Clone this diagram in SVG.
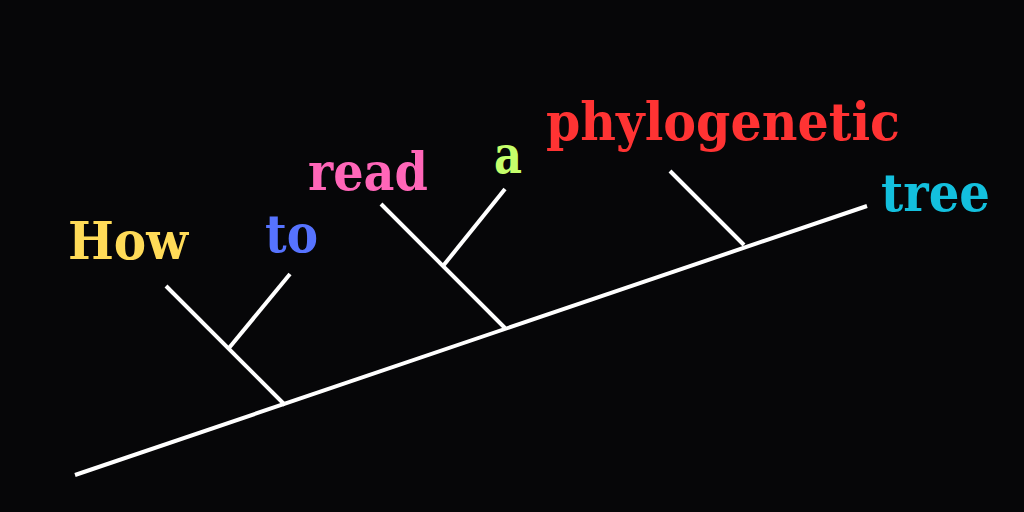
<svg xmlns="http://www.w3.org/2000/svg" width="1024" height="512" viewBox="0 0 1024 512">
<style>
.b{stroke:#fff;stroke-width:4;fill:none;stroke-linecap:butt}
.t{font-family:"DejaVu Serif","Liberation Serif",serif;font-weight:bold;font-size:52px}
</style>
<rect width="1024" height="512" fill="#060608"/>
<g id="connectors">
<line class="b" x1="75" y1="475" x2="867" y2="206"/>
<line class="b" x1="166" y1="286" x2="285" y2="405"/>
<line class="b" x1="229" y1="348" x2="290" y2="274"/>
<line class="b" x1="381" y1="204" x2="505" y2="328"/>
<line class="b" x1="443" y1="266" x2="505" y2="189"/>
<line class="b" x1="670" y1="171" x2="744" y2="245"/>
</g>
<g id="how"><text class="t" x="68" y="259" fill="#FFDB58" textLength="120" lengthAdjust="spacingAndGlyphs">How</text></g>
<g id="to"><text class="t" x="265" y="252" fill="#5673FF" textLength="53" lengthAdjust="spacingAndGlyphs">to</text></g>
<g id="read"><text class="t" x="308" y="190" fill="#FF66B8" textLength="120" lengthAdjust="spacingAndGlyphs">read</text></g>
<g id="a"><text class="t" x="494" y="173" fill="#C5FF6B" textLength="28" lengthAdjust="spacingAndGlyphs">a</text></g>
<g id="phylogenetic"><text class="t" x="546" y="140" fill="#FF3333" textLength="354" lengthAdjust="spacingAndGlyphs">phylogenetic</text></g>
<g id="tree"><text class="t" x="881" y="211" fill="#13C0DE" textLength="109" lengthAdjust="spacingAndGlyphs">tree</text></g>
</svg>
